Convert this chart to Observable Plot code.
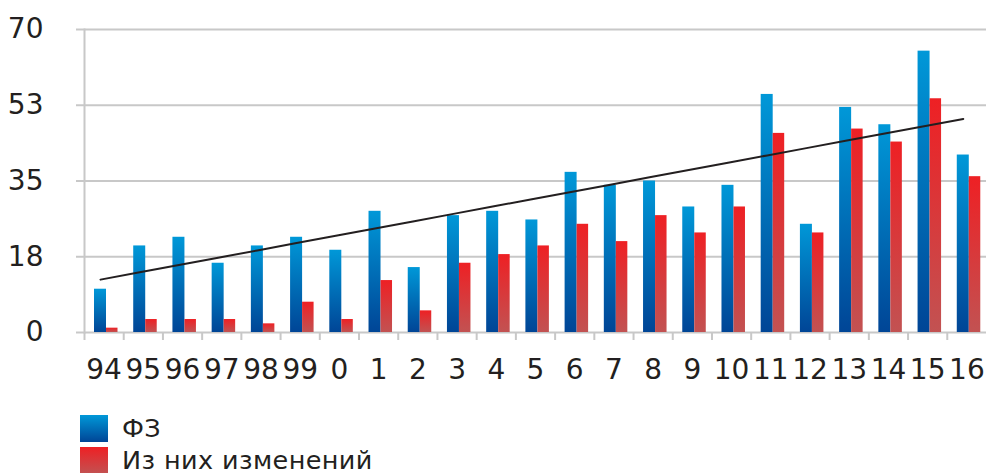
<!DOCTYPE html>
<html><head><meta charset="utf-8">
<script src="https://cdn.jsdelivr.net/npm/d3@7"></script>
<script src="https://cdn.jsdelivr.net/npm/@observablehq/plot@0.6"></script>
<style>
body{margin:0;background:#fff;font-family:"DejaVu Sans",Verdana,sans-serif;color:#231f20;}
#legend{margin-left:80px;padding-top:3px;}
.row{display:flex;align-items:center;height:31.5px;font-size:25.5px;line-height:1;letter-spacing:0.4px;}
.sw{width:28px;height:27px;margin-right:14px;flex:none;}
</style></head><body><div id="chart"></div><div id="legend"></div>
<script>
const categories = ["94","95","96","97","98","99","0","1","2","3","4","5","6","7","8","9","10","11","12","13","14","15","16"];
const fzValues = [10,20,22,16,20,22,19,28,15,27,28,26,37,34,35,29,34,55,25,52,48,65,41];
const changeValues = [1,3,3,3,2,7,3,12,5,16,18,20,25,21,27,23,29,46,23,47,44,54,36];
const yTicks = [0, 17.5, 35, 52.5, 70];
const yTickLabels = ["0","18","35","53","70"];
const seriesNames = ["ФЗ", "Из них изменений"];

const W = 986, H = 410, ML = 84, MR = 0, MT = 29, MB = 78;
const bw = (W - ML - MR) / categories.length;
const grid = "#c8c8c8", ink = "#231f20";

// linear trend of the ФЗ series (least squares)
const n = fzValues.length;
const mx = (n - 1) / 2, my = d3.mean(fzValues);
const slope = d3.sum(fzValues, (v, i) => (i - mx) * (v - my)) / d3.sum(fzValues, (v, i) => (i - mx) ** 2);
const trend = categories.map((c, i) => ({c, v: my + slope * (i - mx)}));

const blueData = categories.map((c, i) => ({c, v: fzValues[i]}));
const redData = categories.map((c, i) => ({c, v: changeValues[i]}));

const defs = () => {
  const d = d3.create("svg:defs");
  const g1 = d.append("linearGradient").attr("id", "gb").attr("x1", 0).attr("y1", 0).attr("x2", 0).attr("y2", 1);
  g1.append("stop").attr("offset", "0%").attr("stop-color", "#0098d8");
  g1.append("stop").attr("offset", "100%").attr("stop-color", "#004596");
  const g2 = d.append("linearGradient").attr("id", "gr").attr("x1", 0).attr("y1", 0).attr("x2", 0).attr("y2", 1);
  g2.append("stop").attr("offset", "0%").attr("stop-color", "#ee2024");
  g2.append("stop").attr("offset", "100%").attr("stop-color", "#c25252");
  return d.node();
};

const plot = Plot.plot({
  width: W, height: H,
  marginTop: MT, marginBottom: MB, marginLeft: ML, marginRight: MR,
  style: {fontFamily: "'DejaVu Sans', Verdana, sans-serif", fontSize: "28px", color: ink, background: "#fff", overflow: "visible"},
  x: {domain: categories, padding: 0, round: false, label: null},
  y: {domain: [0, 70], label: null},
  marks: [
    defs,
    Plot.ruleY(yTicks, {stroke: grid, strokeWidth: 2}),
    Plot.axisY(yTicks, {tickFormat: d => yTickLabels[yTicks.indexOf(d)], tickSize: 8, tickPadding: 33, stroke: grid, strokeWidth: 2, fill: ink, fontSize: 28, label: null}),
    Plot.frame({anchor: "left", stroke: grid, strokeWidth: 2}),
    Plot.ruleX(categories, {x: d => d, y1: 0, y2: 0, insetBottom: -8, dx: -bw / 2, stroke: grid, strokeWidth: 2}),
    Plot.axisX({tickSize: 0, tickPadding: 27, fill: ink, fontSize: 28, label: null}),
    Plot.barY(blueData, {x: "c", y: "v", fill: "url(#gb)", insetLeft: 10, insetRight: bw - 22}),
    Plot.barY(redData, {x: "c", y: "v", fill: "url(#gr)", insetLeft: 22, insetRight: bw - 33.5}),
    Plot.line(trend, {x: "c", y: "v", dx: -3.6, stroke: ink, strokeWidth: 2})
  ]
});
document.getElementById("chart").appendChild(plot);

const legend = document.getElementById("legend");
const swatches = ["linear-gradient(#0098d8,#004596)", "linear-gradient(#ee2024,#c25252)"];
seriesNames.forEach((name, i) => {
  const row = document.createElement("div");
  row.className = "row";
  const sw = document.createElement("div");
  sw.className = "sw";
  sw.style.background = swatches[i];
  const t = document.createElement("span");
  t.textContent = name;
  row.appendChild(sw); row.appendChild(t);
  legend.appendChild(row);
});
</script></body></html>
